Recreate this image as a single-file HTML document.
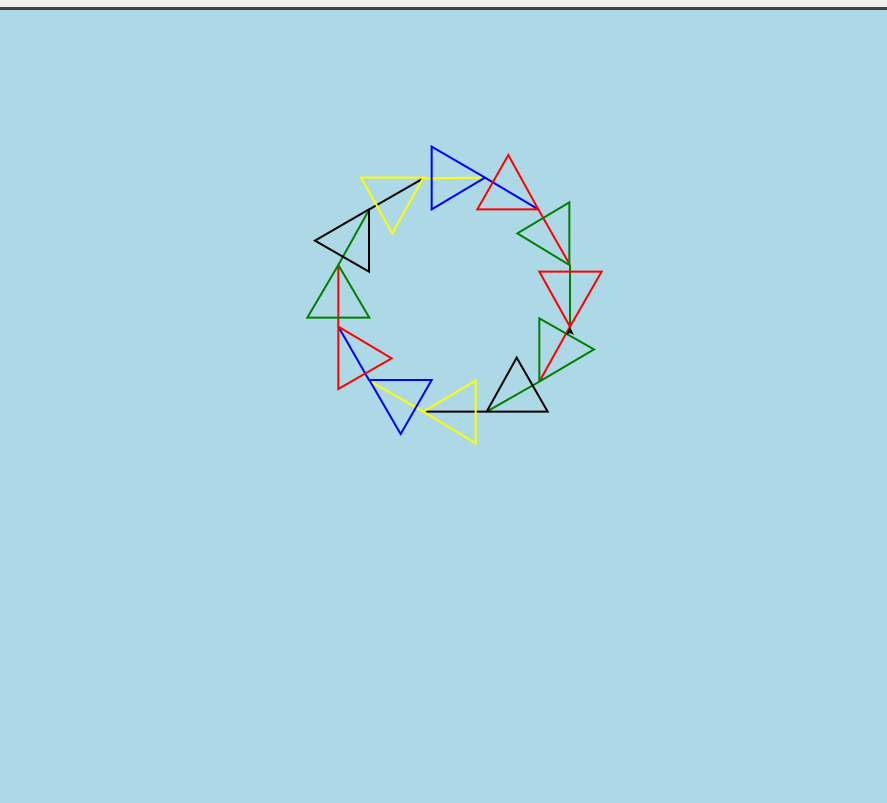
<!DOCTYPE html>
<html><head><meta charset="utf-8"><style>
html,body{margin:0;padding:0;width:887px;height:803px;overflow:hidden;background:#add8e6;font-family:"Liberation Sans",sans-serif}
#bar{position:absolute;left:0;top:0;width:887px;height:7px;background:#f0f0f0}
#bar2{position:absolute;left:0;top:7px;width:887px;height:3px;background:#444}
svg{position:absolute;left:0;top:0}
</style></head><body>
<div id="bar"></div>
<div id="bar2"></div>
<svg id="c" width="887" height="803"></svg>
<script>
// circle path points (zoom-space coords, converted below)
const pathPts=[[400,145],[585,143],[745,238],[840,405],[840,590],[748,755],[590,845],[400,845],[238,752],[145,590],[145,405],[238,238],[400,145]];
const pathColors=["yellow","blue","red","green","red","green","black","yellow","blue","red","green","black"];
const triangles=[
[[213,143],[400,143],[307,310]],
[[425,50],[585,143],[425,238]],
[[655,75],[745,238],[562,238]],
[[838,217],[838,405],[682,310]],
[[748,425],[935,425],[840,590]],
[[748,565],[912,658],[748,755]],
[[680,683],[773,845],[590,845]],
[[557,752],[557,940],[400,845]],
[[238,750],[425,750],[332,912]],
[[145,590],[305,685],[145,777]],
[[145,405],[238,563],[52,563]],
[[237,238],[237,425],[75,332]]];
const triColors=["yellow","blue","red","green","red","green","black","yellow","blue","red","green","black"];
const X=v=>290+v/3, Y=v=>130+v/3;
const svg=document.getElementById('c');
const NS="http://www.w3.org/2000/svg";
for(let i=0;i<pathColors.length;i++){
  const l=document.createElementNS(NS,'line');
  
  
  l.setAttribute('x1',X(pathPts[i][0]));l.setAttribute('y1',Y(pathPts[i][1]));
  l.setAttribute('x2',X(pathPts[i+1][0]));l.setAttribute('y2',Y(pathPts[i+1][1]));
  l.setAttribute('stroke',pathColors[i]==='green'?'#008000':pathColors[i]);
  l.setAttribute('stroke-width','2');
  svg.appendChild(l);
}
triangles.forEach((t,i)=>{
  const p=document.createElementNS(NS,'polygon');
  
  
  p.setAttribute('points',t.map(q=>X(q[0])+','+Y(q[1])).join(' '));
  p.setAttribute('fill','none');
  p.setAttribute('stroke',triColors[i]==='green'?'#008000':triColors[i]);
  p.setAttribute('stroke-width','2');
  svg.appendChild(p);
});
const a=document.createElementNS(NS,'polygon');


a.setAttribute('points','570,327 566,335 570,333 574,335');
a.setAttribute('fill','black');
svg.appendChild(a);
</script>
</body></html>
